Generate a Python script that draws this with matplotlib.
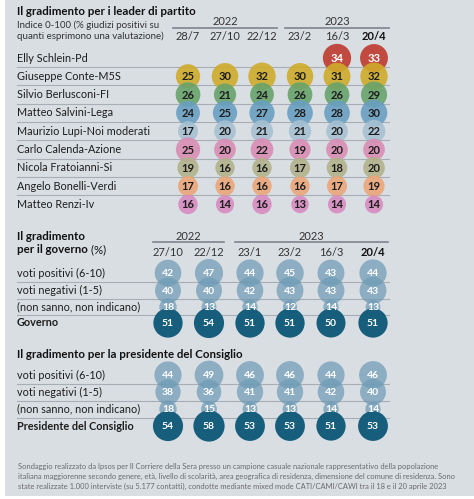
import matplotlib
matplotlib.use("Agg")
import matplotlib.pyplot as plt
from matplotlib.patches import Circle, Rectangle
import numpy as np

plt.rcParams['font.family'] = ['Lato', 'DejaVu Sans']

# ---------------- data ----------------
leader_title = "Il gradimento per i leader di partito"
leader_sub = ["Indice 0-100 (% giudizi positivi su", "quanti esprimono una valutazione)"]
leader_dates = ["28/7", "27/10", "22/12", "23/2", "16/3", "20/4"]
leader_years = [("2022", 0, 2), ("2023", 3, 5)]
leaders = ["Elly Schlein-Pd", "Giuseppe Conte-M5S", "Silvio Berlusconi-FI",
           "Matteo Salvini-Lega", "Maurizio Lupi-Noi moderati", "Carlo Calenda-Azione",
           "Nicola Fratoianni-Si", "Angelo Bonelli-Verdi", "Matteo Renzi-Iv"]
leader_values = [
    [None, None, None, None, 34, 33],
    [25, 30, 32, 30, 31, 32],
    [26, 21, 24, 26, 26, 29],
    [24, 25, 27, 28, 28, 30],
    [17, 20, 21, 21, 20, 22],
    [25, 20, 22, 19, 20, 20],
    [19, 16, 16, 17, 18, 20],
    [17, 16, 16, 16, 17, 19],
    [16, 14, 16, 13, 14, 14],
]
leader_colors = ["#bf3a2e", "#d0ab2a", "#68a36b", "#6a9fc2", "#a6c1d2",
                 "#da8db4", "#b1b28a", "#eaa679", "#d78bc0"]
leader_textcolors = ["white"] + ["#1d1d1d"] * 8

gov_title = ["Il gradimento", "per il governo"]
gov_dates = ["27/10", "22/12", "23/1", "23/2", "16/3", "20/4"]
gov_years = [("2022", 0, 1), ("2023", 2, 5)]
gov_rows = ["voti positivi (6-10)", "voti negativi (1-5)", "(non sanno, non indicano)", "Governo"]
gov_values = [
    [42, 47, 44, 45, 43, 44],
    [40, 40, 42, 43, 43, 43],
    [18, 13, 14, 12, 14, 13],
    [51, 54, 51, 51, 50, 51],
]

pres_title = "Il gradimento per la presidente del Consiglio"
pres_rows = ["voti positivi (6-10)", "voti negativi (1-5)", "(non sanno, non indicano)",
             "Presidente del Consiglio"]
pres_values = [
    [44, 49, 46, 46, 44, 46],
    [38, 36, 41, 41, 42, 40],
    [18, 15, 13, 13, 14, 14],
    [54, 58, 53, 53, 51, 53],
]

footnote = [
    "Sondaggio realizzato da Ipsos per Il Corriere della Sera presso un campione casuale nazionale rappresentativo della popolazione",
    "italiana maggiorenne secondo genere, età, livello di scolarità, area geografica di residenza, dimensione del comune di residenza. Sono",
    "state realizzate 1.000 interviste (su 5.177 contatti), condotte mediante mixed mode CATI/CAMI/CAWI tra il 18 e il 20 aprile 2023",
]

# ---------------- layout ----------------
W, H = 474, 499
BG = "#d9dee3"
LINE = "#a7aeb5"
TXT = "#1e1e1e"
LEFT = 17
RIGHT = 389

fig = plt.figure(figsize=(W / 100, H / 100), dpi=100)
fig.patch.set_facecolor("white")
ax = fig.add_axes([0, 0, 1, 1])
ax.set_xlim(0, W)
ax.set_ylim(H, 0)
ax.axis("off")
ax.add_patch(Rectangle((5, 0), W - 5, 496, facecolor=BG, edgecolor="none", zorder=0))
renderer = fig.canvas.get_renderer()


def fit(text, target_px, weight="normal"):
    t = fig.text(0, 0, text, fontsize=10, fontweight=weight)
    w = t.get_window_extent(renderer).width
    t.remove()
    return 10 * target_px / w


S_TITLE = (fit(leader_title, 176, "bold") + fit(pres_title, 226, "bold")) / 2
S_SUB = fit(leader_sub[1], 148)
S_LABEL = fit("Maurizio Lupi-Noi moderati", 132)
S_DATE = fit("27/10", 31)
S_FOOT = fit(footnote[1], 439)


def header(xs, dates, years, y_year, y_line, y_date):
    for label, i0, i1 in years:
        x0 = xs[i0] - 15
        x1 = xs[i1] + 15
        ax.text((xs[i0] + xs[i1]) / 2, y_year, label, ha="center", va="center",
                fontsize=S_DATE, color="#333333")
        ax.plot([x0, x1], [y_line, y_line], color="#7d858c", lw=1.2)
    for i, (x, d) in enumerate(zip(xs, dates)):
        ax.text(x, y_date, d, ha="center", va="center", fontsize=S_DATE,
                color="#111111" if i == len(dates) - 1 else "#333333",
                fontweight="bold" if i == len(dates) - 1 else "normal")


# ---- leaders ----
ax.text(LEFT, 11, leader_title, ha="left", va="center", fontsize=S_TITLE,
        fontweight="bold", color="#111111")
ax.text(LEFT, 25, leader_sub[0], ha="left", va="center", fontsize=S_SUB, color="#333333")
ax.text(LEFT, 36.5, leader_sub[1], ha="left", va="center", fontsize=S_SUB, color="#333333")
lx = [188, 225, 262, 300, 337, 374]
header(lx, leader_dates, leader_years, 21, 27.5, 36.5)
ly0, ldy = 58, 18.3
k_l = 4.85
for r, (name, vals) in enumerate(zip(leaders, leader_values)):
    y = ly0 + r * ldy
    ax.text(LEFT, y, name, ha="left", va="center", fontsize=S_LABEL, color=TXT)
    if r < len(leaders) - 1:
        ax.plot([LEFT, RIGHT], [y + ldy / 2, y + ldy / 2], color=LINE, lw=0.8, zorder=1)
    for c, v in enumerate(vals):
        if v is None:
            continue
        ax.add_patch(Circle((lx[c], y), k_l * np.sqrt(v) / 2, facecolor=leader_colors[r],
                            edgecolor="none", alpha=0.9, zorder=2 + r * 0.01))
        ax.text(lx[c], y + 0.5, str(v), ha="center", va="center", fontsize=8,
                fontweight="bold", color=leader_textcolors[r], zorder=5)

# ---- governo / presidente ----
gx = [168, 209, 250, 290, 331, 373]
k_g = 4.1
LIGHT = "#6f9bb6"
DARK = "#175e7d"


def block(rows, values, y_rows):
    for r, (name, vals) in enumerate(zip(rows, values)):
        y = y_rows[r]
        last = r == len(rows) - 1
        ax.text(LEFT, y, name, ha="left", va="center", fontsize=S_LABEL, color=TXT,
                fontweight="bold" if last else "normal")
        if not last:
            ym = (y_rows[r] + y_rows[r + 1]) / 2
            ax.plot([LEFT, RIGHT], [ym, ym], color=LINE, lw=0.8, zorder=1)
        for c, v in enumerate(vals):
            ax.add_patch(Circle((gx[c], y), k_g * np.sqrt(v) / 2,
                                facecolor=DARK if last else LIGHT, edgecolor="none",
                                alpha=1.0 if last else 0.72, zorder=2 + r * 0.01))
            ax.text(gx[c], y + 0.5, str(v), ha="center", va="center", fontsize=7.5,
                    fontweight="bold", color="white", zorder=5)


ax.text(LEFT, 236, gov_title[0], ha="left", va="center", fontsize=S_TITLE,
        fontweight="bold", color="#111111")
t = ax.text(LEFT, 249.5, gov_title[1], ha="left", va="center", fontsize=S_TITLE,
            fontweight="bold", color="#111111")
ax.annotate(" (%)", xycoords=t, xy=(1, 0.5), va="center", ha="left", fontsize=S_TITLE,
            color="#111111")
header(gx, gov_dates, gov_years, 236, 241.5, 252)
block(gov_rows, gov_values, [273, 290.5, 307, 323])

ax.text(LEFT, 354, pres_title, ha="left", va="center", fontsize=S_TITLE,
        fontweight="bold", color="#111111")
block(pres_rows, pres_values, [375, 392, 409, 426])

for i, line in enumerate(footnote):
    ax.text(LEFT + 1, 467 + i * 9.7, line, ha="left", va="center", fontsize=S_FOOT,
            color="#6a6a6a")

fig.savefig("out.png", dpi=100, facecolor=fig.get_facecolor())
